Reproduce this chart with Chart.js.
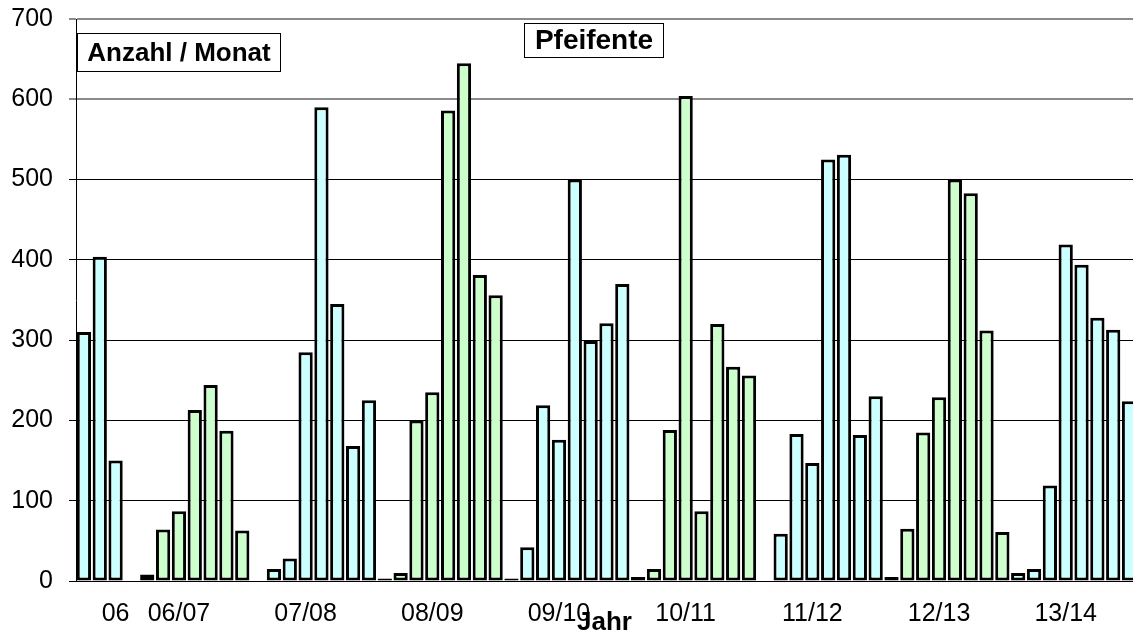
<!DOCTYPE html>
<html>
<head>
<meta charset="utf-8">
<script src="https://cdn.jsdelivr.net/npm/chart.js@4.4.0/dist/chart.umd.min.js"></script>
<style>
html,body{margin:0;padding:0;background:#fff;overflow:hidden}
#wrap{width:1133px;height:633px;position:relative}
</style>
</head>
<body>
<div id="wrap"><canvas id="c"></canvas></div>
<script>
// Season labels (x-axis tick labels)
const seasons = ['06', '06/07', '07/08', '08/09', '09/10', '10/11', '11/12', '12/13', '13/14'];

// Monthly counts per season (null = no bar)
const v06   = [310, 404, 150];
const v0607 = [null, 8, 64, 87, 213, 244, 187, 63];
const v0708 = [null, 15, 28, 285, 590, 345, 168, 225];
const v0809 = [3, 10, 200, 235, 586, 645, 381, 356];
const v0910 = [3, 42, 219, 176, 500, 299, 321, 370];
const v1011 = [5, 15, 188, 604, 87, 320, 267, 256];
const v1112 = [null, 59, 183, 147, 525, 531, 182, 230];
const v1213 = [5, 65, 185, 229, 500, 483, 312, 61];
const v1314 = [10, 15, 119, 419, 394, 328, 313, 224];

const seasonValues = [v06, v0607, v0708, v0809, v0910, v1011, v1112, v1213, v1314];

// Y-axis tick values
const yTicks = [0, 100, 200, 300, 400, 500, 600, 700];

const FONT = "'Liberation Sans', Arial, sans-serif";
const CYAN = '#CCFFFF';
const GREEN = '#CCFFCC';

// Build the flat category list (one slot per month)
const points = [];
const colors = [];
const tickSlots = [];
let slot = 0;
seasonValues.forEach((vals, i) => {
  tickSlots.push(slot + Math.min(3, vals.length - 1));
  vals.forEach(v => {
    points.push({x: slot, y: v});
    colors.push(i % 2 === 0 ? CYAN : GREEN);
    slot++;
  });
});

const boxes = {
  id: 'boxes',
  afterDraw(chart) {
    const ctx = chart.ctx;
    const a = chart.chartArea;
    const items = [
      {text: 'Anzahl / Monat', x: a.left + 1, y: 33, w: 204, h: 39, size: 26},
      {text: 'Pfeifente', x: 524, y: 23, w: 140, h: 35, size: 28}
    ];
    ctx.save();
    items.forEach(b => {
      ctx.fillStyle = '#fff';
      ctx.fillRect(b.x, b.y, b.w, b.h);
      ctx.strokeStyle = '#000';
      ctx.lineWidth = 1;
      ctx.strokeRect(b.x + 0.5, b.y + 0.5, b.w - 1, b.h - 1);
      ctx.fillStyle = '#000';
      ctx.font = 'bold ' + b.size + 'px ' + FONT;
      ctx.textAlign = 'center';
      ctx.textBaseline = 'middle';
      ctx.fillText(b.text, b.x + b.w / 2, b.y + b.h / 2 + 1);
    });
    ctx.restore();
  }
};

new Chart(document.getElementById('c'), {
  type: 'bar',
  data: {
    datasets: [{
      data: points,
      backgroundColor: colors,
      borderColor: '#000',
      borderWidth: 3,
      borderSkipped: false,
      categoryPercentage: 1,
      barPercentage: 0.9
    }]
  },
  options: {
    responsive: true,
    maintainAspectRatio: false,
    animation: false,
    events: [],
    layout: {padding: {top: 19, right: 0, left: 0, bottom: 0}},
    plugins: {legend: {display: false}, tooltip: {enabled: false}, title: {display: false}},
    scales: {
      x: {
        type: 'linear',
        min: -0.5,
        max: 66.25,
        bounds: 'data',
        offset: false,
        grid: {display: false, drawTicks: false, offset: false},
        border: {display: true, color: '#000', width: 1},
        afterBuildTicks: s => { s.ticks = tickSlots.map(v => ({value: v})); },
        ticks: {
          autoSkip: false,
          maxRotation: 0,
          minRotation: 0,
          padding: 18,
          color: '#000',
          font: {family: FONT, size: 25},
          callback: v => { const i = tickSlots.indexOf(v); return i >= 0 ? seasons[i] : ''; }
        },
        title: {
          display: true,
          text: 'Jahr',
          color: '#000',
          padding: 0,
          font: {family: FONT, size: 26, weight: 'bold', lineHeight: 0.8}
        },
        afterFit: s => { s.height = 52; s.paddingLeft = 0; s.paddingRight = 0; }
      },
      y: {
        min: 0,
        max: 700,
        afterBuildTicks: s => { s.ticks = yTicks.map(v => ({value: v})); },
        ticks: {
          padding: 16,
          color: '#000',
          font: {family: FONT, size: 25}
        },
        grid: {
          color: c => (c.tick && c.tick.value >= 600) ? '#8a8a8a' : '#000',
          lineWidth: c => (c.tick && c.tick.value >= 600) ? 2 : 1,
          tickLength: 7,
          drawTicks: true
        },
        border: {display: true, color: '#000', width: 1},
        afterFit: s => { s.width = 76; s.paddingTop = 0; s.paddingBottom = 0; }
      }
    }
  },
  plugins: [boxes]
});
</script>
</body>
</html>
